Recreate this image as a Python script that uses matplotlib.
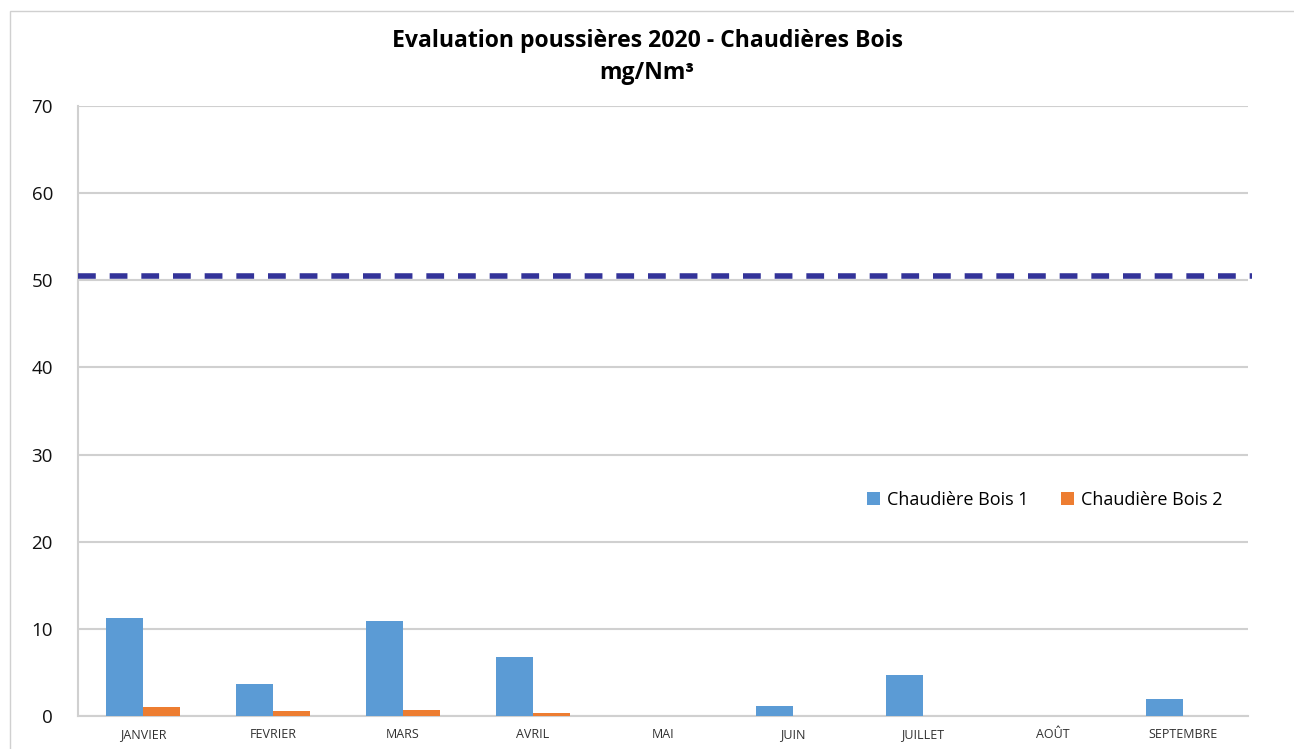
import numpy as np
import matplotlib.pyplot as plt
from matplotlib.patches import Rectangle

# monthly dust measurements (mg/Nm3)
mois = ["JANVIER", "FEVRIER", "MARS", "AVRIL", "MAI", "JUIN", "JUILLET", "AOÛT", "SEPTEMBRE"]
bois1 = [11.25, 3.7, 10.95, 6.8, 0.0, 1.15, 4.7, 0.0, 1.95]
bois2 = [1.0, 0.6, 0.7, 0.4, 0.0, 0.0, 0.0, 0.0, 0.0]
seuil = 50.5

plt.rcParams['font.family'] = ['Open Sans', 'DejaVu Sans']

fig = plt.figure(figsize=(12.94, 7.49), dpi=100)
ax = fig.add_axes([78 / 1294, 1 - 716 / 749, 1170 / 1294, 610 / 749])

# outer chart frame
fig.patches.append(Rectangle((10 / 1294, -0.05), 1.2, 1 - 11 / 749 + 0.05,
                             transform=fig.transFigure, fill=False,
                             edgecolor='#d0d0d0', linewidth=1.0))

x = np.arange(len(mois))
w = 0.285
ax.bar(x - w / 2, bois1, w, color='#5b9bd5', label='Chaudière Bois 1', zorder=3)
ax.bar(x + w / 2, bois2, w, color='#ed7d31', label='Chaudière Bois 2', zorder=3)

ax.plot([-0.5, 8.53], [seuil, seuil], color='#333399', linewidth=4.0,
        dashes=(3.2, 2.5), zorder=4, clip_on=False)

ax.set_xlim(-0.5, 8.5)
ax.set_ylim(0, 70)
ax.set_yticks(range(0, 71, 10))
ax.set_xticks(x)
ax.set_xticklabels(mois, fontsize=9, color='#303030')
ax.tick_params(axis='y', labelsize=13.5, colors='#111111', length=0, pad=18)
ax.tick_params(axis='x', length=0, pad=9)
ax.grid(axis='y', color='#d0d0d0', linewidth=1.5, zorder=0)

for s in ['top', 'right']:
    ax.spines[s].set_visible(False)
ax.spines['left'].set_color('#d0d0d0')
ax.spines['bottom'].set_color('#d0d0d0')
ax.spines['left'].set_linewidth(1.5)
ax.spines['bottom'].set_linewidth(1.5)

fig.text(0.5, 1 - 41 / 749, "Evaluation poussières 2020 - Chaudières Bois",
         ha='center', va='center', fontsize=16.6, fontweight='bold')
fig.text(0.5, 1 - 73 / 749, "mg/Nm³", ha='center', va='center',
         fontsize=16.6, fontweight='bold')

ax.legend(loc='center', bbox_to_anchor=(1045 / 1294, 1 - 500 / 749),
          bbox_transform=fig.transFigure, ncol=2, frameon=False,
          fontsize=13, handlelength=0.7, handleheight=0.7,
          columnspacing=1.8, handletextpad=0.4)

fig.savefig("out.png", dpi=100)
